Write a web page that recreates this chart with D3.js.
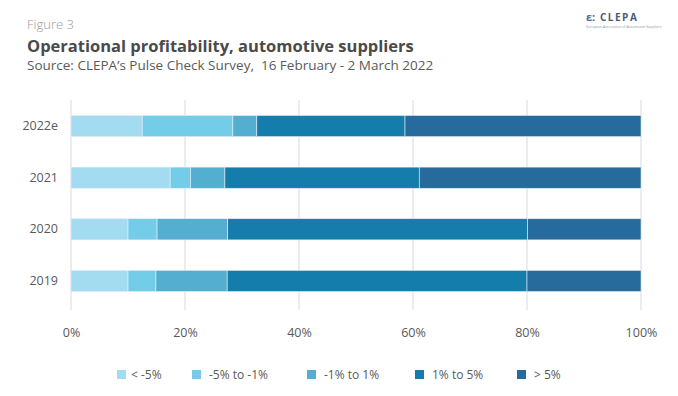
<!DOCTYPE html>
<html>
<head>
    <title>Operational profitability</title>
    <script src="https://cdn.jsdelivr.net/npm/d3@7"></script>
    <style>
        body { margin: 0; background: #fff; }
        text { font-family: "Open Sans", sans-serif; }
    </style>
</head>
<body>
<script>
    var years = ["2022e", "2021", "2020", "2019"];
    var bands = ["< -5%", "-5% to -1%", "-1% to 1%", "1% to 5%", "> 5%"];
    var lt5 = [12.5, 17.4, 10.0, 10.0];
    var m5to1 = [15.9, 3.6, 5.1, 4.9];
    var m1to1 = [4.2, 6.0, 12.4, 12.5];
    var p1to5 = [26.0, 34.1, 52.6, 52.6];
    var gt5 = [41.4, 38.9, 19.9, 20.0];
    var ticks = [0, 20, 40, 60, 80, 100];
    var colors = ["#a3dcf1", "#74cde8", "#54aed0", "#157dab", "#266b9b"];

    var width = 678, height = 396;
    var svg = d3.select("body").append("svg")
        .attr("width", width)
        .attr("height", height);

    // header
    svg.append("text").attr("x", 27).attr("y", 29)
        .attr("font-size", 13).attr("fill", "#9a9a9a").attr("font-weight", 300)
        .text("Figure 3");
    svg.append("text").attr("x", 27).attr("y", 52)
        .attr("font-size", 16.5).attr("font-weight", 700).attr("fill", "#4a4a4a")
        .text("Operational profitability, automotive suppliers");
    svg.append("text").attr("x", 27).attr("y", 70)
        .attr("font-size", 13.5).attr("fill", "#5a5a5a")
        .style("white-space", "pre")
        .text("Source: CLEPA\u2019s Pulse Check Survey,  16 February - 2 March 2022");

    // logo
    svg.append("text").attr("x", 586).attr("y", 21)
        .attr("font-size", 11).attr("font-weight", 700).attr("fill", "#4a6a9a")
        .text("\u03B5:");
    svg.append("text").attr("x", 600).attr("y", 21)
        .attr("font-size", 10).attr("font-weight", 700).attr("fill", "#4a5a7a")
        .attr("letter-spacing", 1.5)
        .text("CLEPA");
    svg.append("text").attr("x", 586).attr("y", 28)
        .attr("font-size", 3.5).attr("fill", "#8a9ab0")
        .text("European Association of Automotive Suppliers");

    var x = d3.scaleLinear().domain([0, 100]).range([71, 641]);
    var y = d3.scaleBand().domain(years).range([100, 307]).paddingInner(0.59).paddingOuter(0.3);

    // grid
    svg.append("g").selectAll("line")
        .data(ticks)
        .enter().append("line")
        .attr("x1", d => x(d)).attr("x2", d => x(d))
        .attr("y1", 100).attr("y2", 310)
        .attr("stroke", "#d9d9d9").attr("stroke-width", 1);

    var table = years.map(function(yr, i) {
        return { year: yr, v: [lt5[i], m5to1[i], m1to1[i], p1to5[i], gt5[i]] };
    });
    var stack = d3.stack().keys(d3.range(5)).value((d, k) => d.v[k]);
    var series = stack(table);

    svg.append("g").selectAll("g")
        .data(series)
        .enter().append("g")
        .attr("fill", (d, i) => colors[i])
        .selectAll("rect")
        .data(d => d)
        .enter().append("rect")
        .attr("x", d => x(d[0]))
        .attr("width", d => x(d[1]) - x(d[0]))
        .attr("y", d => y(d.data.year))
        .attr("height", y.bandwidth())
        .attr("stroke", "#e4eef4").attr("stroke-width", 0.6);

    // axes
    var xAxis = svg.append("g").attr("transform", "translate(0,310)")
        .call(d3.axisBottom(x).tickValues(ticks).tickFormat(d => d + "%").tickSize(0).tickPadding(18));
    xAxis.select(".domain").remove();
    xAxis.selectAll("text").attr("font-size", 12.5).attr("fill", "#595959");

    var yAxis = svg.append("g").attr("transform", "translate(71,0)")
        .call(d3.axisLeft(y).tickSize(0).tickPadding(13));
    yAxis.select(".domain").remove();
    yAxis.selectAll("text").attr("font-size", 12.5).attr("fill", "#595959");

    // legend
    var legX = [117, 192, 307, 415, 517];
    var leg = svg.append("g").selectAll("g")
        .data(bands)
        .enter().append("g")
        .attr("transform", (d, i) => "translate(" + legX[i] + ",370)");
    leg.append("rect").attr("width", 9).attr("height", 9)
        .attr("fill", (d, i) => colors[i]);
    leg.append("text")
        .attr("x", (d, i) => i === 0 ? 14 : 17)
        .attr("y", 9)
        .attr("font-size", 12).attr("fill", "#595959")
        .text(d => d);
</script>
</body>
</html>
